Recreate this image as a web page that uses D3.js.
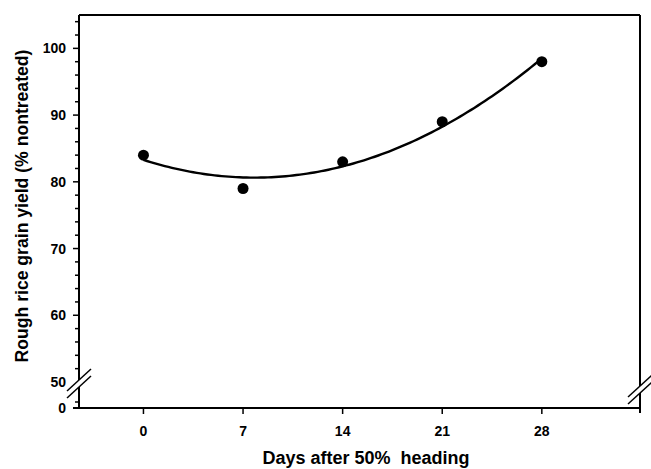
<!DOCTYPE html>
<html>
<head>
<meta charset="utf-8">
<script src="https://cdn.jsdelivr.net/npm/d3@7"></script>
<style>
	body { margin: 0; background: #fff; }
	svg { display: block; }
	text { font-family: "Liberation Sans", Arial, sans-serif; font-weight: bold; fill: #000; }
</style>
</head>
<body>
<div id="chart"></div>
<script>
const days = [0, 7, 14, 21, 28];
const yieldPct = [84, 79, 83, 89, 98];
const xTicks = [0, 7, 14, 21, 28];
const yTicks = [60, 70, 80, 90, 100];

const width = 651, height = 469;
const plotLeft = 79, plotRight = 640, plotTop = 15, plotBottom = 408;

const svg = d3.select("#chart").append("svg")
	.attr("width", width)
	.attr("height", height);

const x = d3.scaleLinear().domain([-4.53, 34.9]).range([plotLeft, plotRight]);
const y = d3.scaleLinear().domain([50, 105]).range([382, plotTop]);

// quadratic least squares fit of the points
function quadFit(xs, ys) {
	let s = [0, 0, 0, 0, 0], t = [0, 0, 0];
	xs.forEach((xv, i) => {
		for (let k = 0; k < 5; k++) s[k] += Math.pow(xv, k);
		for (let k = 0; k < 3; k++) t[k] += Math.pow(xv, k) * ys[i];
	});
	const A = [[s[0], s[1], s[2], t[0]], [s[1], s[2], s[3], t[1]], [s[2], s[3], s[4], t[2]]];
	for (let i = 0; i < 3; i++) {
		for (let j = i + 1; j < 3; j++) {
			const f = A[j][i] / A[i][i];
			for (let k = i; k < 4; k++) A[j][k] -= f * A[i][k];
		}
	}
	const c = [0, 0, 0];
	for (let i = 2; i >= 0; i--) {
		let v = A[i][3];
		for (let k = i + 1; k < 3; k++) v -= A[i][k] * c[k];
		c[i] = v / A[i][i];
	}
	return xv => c[0] + c[1] * xv + c[2] * xv * xv;
}
const fit = quadFit(days, yieldPct);

// frame
const frame = svg.append("g").attr("stroke", "#000").attr("stroke-width", 2).attr("fill", "none");
frame.append("line").attr("x1", plotLeft).attr("x2", plotRight).attr("y1", plotTop).attr("y2", plotTop);
frame.append("line").attr("x1", plotRight).attr("x2", plotRight).attr("y1", plotTop).attr("y2", plotBottom + 5);
frame.append("line").attr("x1", plotLeft).attr("x2", plotLeft).attr("y1", plotTop).attr("y2", plotBottom);
frame.append("line").attr("x1", plotLeft - 6).attr("x2", plotRight).attr("y1", plotBottom).attr("y2", plotBottom);

// y ticks
const minor = d3.range(52, 105, 2).filter(v => v % 10 !== 0);
svg.append("g").selectAll("line")
	.data(minor).join("line")
	.attr("x1", plotLeft - 4).attr("x2", plotLeft)
	.attr("y1", d => y(d)).attr("y2", d => y(d))
	.attr("stroke", "#000").attr("stroke-width", 1.5);
svg.append("g").selectAll("line")
	.data(yTicks).join("line")
	.attr("x1", plotLeft - 6).attr("x2", plotLeft)
	.attr("y1", d => y(d)).attr("y2", d => y(d))
	.attr("stroke", "#000").attr("stroke-width", 1.5);
svg.append("line").attr("x1", plotLeft - 4).attr("x2", plotLeft)
	.attr("y1", plotBottom - 6).attr("y2", plotBottom - 6)
	.attr("stroke", "#000").attr("stroke-width", 1.5);

svg.append("g").selectAll("text")
	.data(yTicks.concat([50])).join("text")
	.attr("x", 66).attr("y", d => y(d)).attr("dy", "0.36em")
	.attr("text-anchor", "end").attr("font-size", 14)
	.text(d => d);
svg.append("text").attr("x", 66).attr("y", plotBottom).attr("dy", "0.36em")
	.attr("text-anchor", "end").attr("font-size", 14).text("0");

// x ticks
svg.append("g").selectAll("line")
	.data(xTicks).join("line")
	.attr("x1", d => x(d)).attr("x2", d => x(d))
	.attr("y1", plotBottom).attr("y2", plotBottom + 6)
	.attr("stroke", "#000").attr("stroke-width", 1.5);
svg.append("g").selectAll("text")
	.data(xTicks).join("text")
	.attr("x", d => x(d)).attr("y", 436)
	.attr("text-anchor", "middle").attr("font-size", 14)
	.text(d => d);

// axis breaks
function axisBreak(cx, cy) {
	const g = svg.append("g");
	g.append("polygon")
		.attr("points", `${cx - 12},${cy + 7} ${cx + 12},${cy - 15} ${cx + 12},${cy - 8} ${cx - 12},${cy + 14}`)
		.attr("fill", "#fff");
	[0, 7].forEach(dy => {
		g.append("line")
			.attr("x1", cx - 12).attr("y1", cy + 7 + dy)
			.attr("x2", cx + 12).attr("y2", cy - 15 + dy)
			.attr("stroke", "#000").attr("stroke-width", 1.5);
	});
}
axisBreak(plotLeft, 384);
axisBreak(plotRight, 390);

// fitted curve
const curve = d3.range(0, 28.01, 0.25).map(d => [d, fit(d)]);
svg.append("path")
	.datum(curve)
	.attr("fill", "none")
	.attr("stroke", "#000")
	.attr("stroke-width", 2.4)
	.attr("d", d3.line().x(d => x(d[0])).y(d => y(d[1])));

// points
svg.append("g").selectAll("circle")
	.data(days.map((d, i) => [d, yieldPct[i]])).join("circle")
	.attr("cx", d => x(d[0])).attr("cy", d => y(d[1]))
	.attr("r", 5.5).attr("fill", "#000");

// axis titles
svg.append("text")
	.attr("x", 366).attr("y", 464)
	.attr("text-anchor", "middle").attr("font-size", 18)
	.text("Days after 50%\u00a0 heading");
svg.append("text")
	.attr("transform", "translate(28,206) rotate(-90)")
	.attr("text-anchor", "middle").attr("font-size", 17.6)
	.text("Rough rice grain yield (% nontreated)");
</script>
</body>
</html>
